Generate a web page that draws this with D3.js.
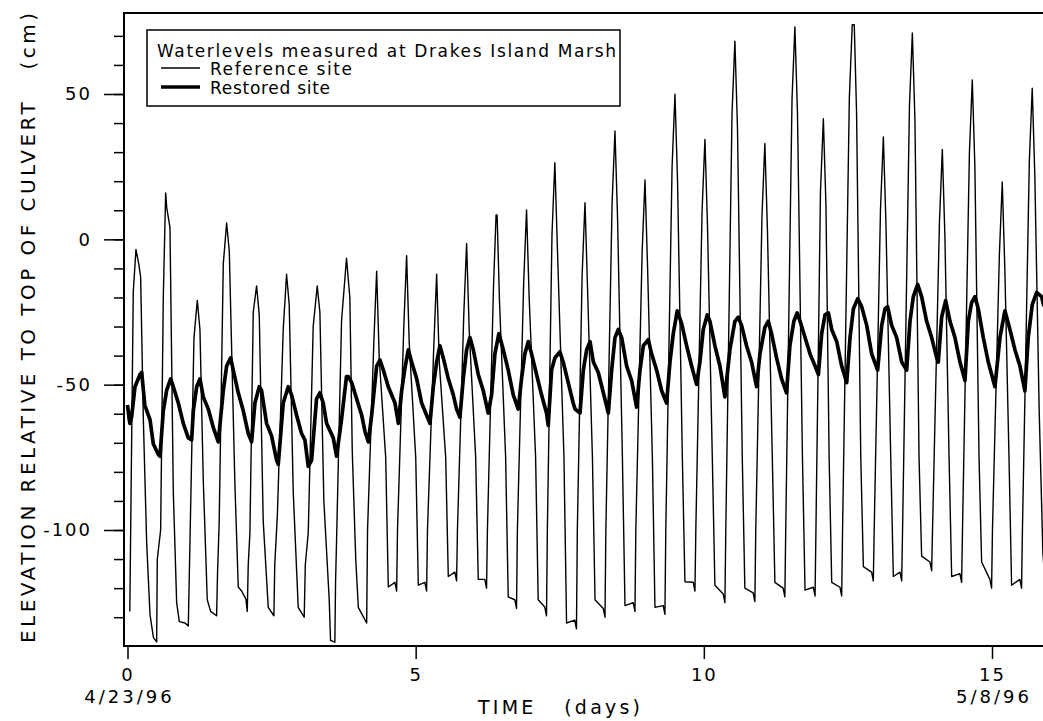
<!DOCTYPE html>
<html>
<head>
<meta charset="utf-8">
<script src="https://cdn.jsdelivr.net/npm/d3@7/dist/d3.min.js"></script>
<style>
  body { margin: 0; background: #fff; }
  svg { display: block; }
  text { font-family: "DejaVu Sans", Verdana, sans-serif; fill: #000; }
</style>
</head>
<body>
<div id="chart"></div>
<script>
// water level, cm relative to top of culvert, [day, level]
const refSite = [
  [0.040,-128],[0.055,-100],[0.100,-18],[0.147,-3.5],[0.200,-9],[0.228,-13],[0.275,-62],[0.332,-104],[0.390,-129],[0.450,-137],[0.506,-138.5],
  [0.517,-110],[0.575,-100],[0.621,-20],[0.662,16],[0.680,11],[0.737,4],[0.795,-87],[0.853,-125],[0.899,-131.5],[0.997,-132],[1.055,-133],
  [1.070,-118],[1.084,-104],[1.153,-34],[1.211,-21],[1.257,-31],[1.315,-83],[1.384,-124],[1.442,-128],[1.546,-129.5],
  [1.562,-115],[1.590,-98],[1.662,-8.5],[1.720,5.6],[1.766,-4],[1.864,-84.5],[1.922,-119.6],[1.980,-121],[2.055,-123.8],[2.078,-128],
  [2.095,-112],[2.124,-101],[2.182,-25],[2.240,-16],[2.286,-26],[2.355,-97],[2.442,-126.6],[2.540,-129.5],
  [2.555,-112],[2.600,-95],[2.702,-31],[2.760,-12],[2.806,-22.5],[2.876,-87],[2.962,-126.6],[3.066,-130],
  [3.085,-112],[3.136,-101],[3.222,-30],[3.292,-16],[3.338,-25],[3.407,-90],[3.500,-124],[3.523,-138],[3.598,-138.6],
  [3.610,-118],[3.627,-104],[3.714,-28],[3.800,-6.5],[3.858,-20],[3.900,-73],[3.960,-110],[4.005,-126.6],[4.150,-132],
  [4.165,-100],[4.273,-36],[4.323,-11],[4.368,-41],[4.480,-75],[4.525,-119.6],[4.640,-118],[4.670,-121],
  [4.685,-100],[4.793,-30.6],[4.843,-5.6],[4.888,-35.6],[5.001,-75],[5.046,-119],[5.160,-118],[5.190,-121],
  [5.205,-100],[5.314,-37],[5.364,-12],[5.409,-42],[5.521,-75],[5.566,-116],[5.680,-114.5],[5.710,-117.5],
  [5.725,-100],[5.834,-26.4],[5.884,-1.4],[5.929,-31.4],[6.041,-75],[6.086,-117],[6.200,-117],[6.230,-120],
  [6.245,-100],[6.350,-16.6],[6.395,8.4],[6.413,8.4],[6.455,-21.6],[6.561,-75],[6.606,-123],[6.720,-124],[6.750,-127],
  [6.765,-100],[6.874,-14.9],[6.924,10.1],[6.969,-19.9],[7.081,-75],[7.126,-124],[7.240,-126.5],[7.270,-129.5],
  [7.285,-100],[7.365,1.4],[7.415,26.4],[7.460,-3.6],[7.573,-75],[7.618,-132],[7.760,-131],[7.790,-134],
  [7.805,-100],[7.888,-12.4],[7.938,12.6],[7.983,-17.4],[8.067,-75],[8.112,-124],[8.255,-127],[8.285,-130],
  [8.300,-100],[8.408,12.3],[8.458,37.3],[8.503,7.3],[8.587,-75],[8.632,-126],[8.775,-125],[8.805,-128],
  [8.820,-100],[8.929,-4.6],[8.979,20.4],[9.024,-9.6],[9.107,-75],[9.152,-126.6],[9.295,-126],[9.325,-129],
  [9.340,-100],[9.449,24.9],[9.499,49.9],[9.544,19.9],[9.627,-75],[9.672,-117.8],[9.816,-118],[9.846,-121],
  [9.861,-100],[9.969,9.4],[10.019,34.4],[10.064,4.4],[10.147,-75],[10.192,-119],[10.336,-122],[10.366,-125],
  [10.381,-100],[10.489,43.2],[10.539,68.2],[10.584,38.2],[10.667,-75],[10.712,-120],[10.856,-121.6],[10.886,-124.6],
  [10.901,-100],[11.009,8],[11.059,33],[11.104,3],[11.188,-75],[11.233,-118],[11.376,-120],[11.406,-123],
  [11.421,-100],[11.530,48.1],[11.580,73.1],[11.625,43.1],[11.711,-75],[11.756,-120.7],[11.900,-119.7],[11.930,-122.7],
  [11.945,-100],[12.024,16.5],[12.074,41.5],[12.119,11.5],[12.174,-75],[12.219,-118],[12.362,-119.7],[12.392,-122.7],
  [12.407,-100],[12.525,48.8],[12.575,73.8],[12.610,73.8],[12.650,43.8],[12.723,-75],[12.768,-112.6],[12.911,-114.5],[12.941,-117.5],
  [12.956,-100],[13.065,10.2],[13.115,35.2],[13.160,5.2],[13.243,-75],[13.288,-116],[13.403,-114.5],[13.433,-117.5],
  [13.448,-100],[13.568,46],[13.618,71],[13.663,41],[13.734,-75],[13.779,-109],[13.923,-111],[13.953,-114],
  [13.968,-100],[14.088,5.9],[14.138,30.9],[14.183,0.9],[14.255,-75],[14.300,-116],[14.443,-115],[14.473,-118],
  [14.488,-100],[14.608,29.8],[14.658,54.8],[14.703,24.8],[14.775,-75],[14.820,-111],[14.963,-117],[14.993,-120],
  [15.008,-100],[15.128,-5.3],[15.178,19.7],[15.223,-10.3],[15.295,-75],[15.340,-119],[15.483,-117],[15.513,-120],
  [15.528,-100],[15.648,27],[15.698,52],[15.743,22],[15.820,-60],[15.883,-108],[15.930,-120]
];

const restoredSite = [
  [0.000,-57],[0.030,-62],[0.043,-63.3],[0.072,-61],[0.130,-50.7],[0.217,-46.5],[0.246,-45.8],[0.300,-57],[0.390,-62],[0.448,-70.4],[0.535,-74],[0.564,-74.6],
  [0.621,-59],[0.679,-52],[0.749,-48],[0.795,-50.7],[0.882,-56.3],[0.968,-63.3],[1.055,-68.3],[1.113,-69],
  [1.142,-59],[1.200,-50.7],[1.257,-48],[1.315,-54.2],[1.402,-58.4],[1.488,-64.7],[1.575,-69.7],
  [1.662,-52],[1.720,-43.6],[1.789,-40.8],[1.835,-45],[1.922,-52.8],[2.009,-59],[2.095,-66.8],[2.153,-69.7],
  [2.211,-56.3],[2.286,-50.7],[2.326,-52],[2.413,-63.3],[2.500,-67.6],[2.587,-76],[2.616,-77.4],
  [2.702,-56.3],[2.789,-50.7],[2.847,-53.5],[2.934,-60.5],[3.020,-66.8],[3.078,-69],[3.136,-78.1],[3.194,-76],
  [3.280,-54.9],[3.338,-52.8],[3.396,-56.3],[3.454,-63.3],[3.570,-68.3],[3.627,-74.6],
  [3.714,-61.9],[3.800,-47.2],[3.832,-47.2],[3.890,-49.3],[3.976,-54.9],[4.063,-60.5],[4.121,-66.1],[4.179,-69.7],
  [4.236,-60.5],[4.323,-43.6],[4.381,-41.5],[4.439,-45],[4.525,-50.7],[4.641,-56.3],[4.699,-63.3],
  [4.757,-52.1],[4.814,-44.3],[4.872,-38],[4.930,-42.2],[5.017,-47.9],[5.103,-56.3],[5.190,-60.5],[5.248,-63.3],
  [5.306,-50.7],[5.364,-42.2],[5.421,-36.6],[5.479,-40.8],[5.566,-47.9],[5.653,-53.5],[5.710,-58.4],[5.768,-61.2],
  [5.826,-47.9],[5.884,-38],[5.942,-33.8],[6.000,-38],[6.086,-46.5],[6.173,-52.1],[6.259,-59.8],
  [6.317,-53.5],[6.375,-39.4],[6.444,-32.4],[6.520,-38],[6.606,-45],[6.693,-53.5],[6.780,-58.4],
  [6.837,-47.9],[6.895,-39.4],[6.953,-35.2],[7.011,-39.4],[7.098,-46.5],[7.184,-53.5],[7.271,-59.8],[7.300,-64],
  [7.358,-45],[7.415,-40.8],[7.502,-38.7],[7.560,-42.2],[7.647,-49.3],[7.733,-56.3],[7.765,-58.4],[7.851,-59.8],
  [7.909,-45],[7.967,-38],[8.025,-35.2],[8.083,-42.2],[8.169,-45.8],[8.256,-52.8],[8.343,-59.8],
  [8.401,-45],[8.458,-33.8],[8.516,-31],[8.574,-33.8],[8.661,-43.6],[8.747,-48.6],[8.834,-57.7],
  [8.892,-45],[8.950,-36.6],[9.036,-34.5],[9.094,-39.4],[9.181,-45],[9.268,-52.1],[9.354,-56.3],
  [9.412,-42.2],[9.470,-32.4],[9.539,-24.6],[9.614,-28.9],[9.701,-36.6],[9.788,-43.6],[9.874,-49.9],
  [9.932,-42.2],[9.990,-31],[10.059,-26],[10.106,-28.2],[10.192,-36.6],[10.279,-43.6],[10.366,-54.2],
  [10.452,-38],[10.539,-28.2],[10.597,-26.8],[10.655,-29.6],[10.741,-36.6],[10.828,-42.2],[10.915,-50.7],
  [10.973,-39.4],[11.059,-30.3],[11.117,-28.2],[11.175,-32.4],[11.262,-40.8],[11.348,-47.9],[11.435,-52.8],
  [11.493,-36.6],[11.562,-28.2],[11.620,-25.3],[11.670,-28.2],[11.756,-33.8],[11.843,-39.4],[11.930,-43.6],[11.988,-46.5],
  [12.045,-32.4],[12.103,-26],[12.161,-25.3],[12.219,-31],[12.306,-35.2],[12.392,-43.6],[12.479,-49.3],
  [12.537,-33.8],[12.595,-23.9],[12.670,-20.4],[12.739,-23.2],[12.826,-29.6],[12.912,-39.4],[13.016,-45],
  [13.086,-29.6],[13.144,-23.9],[13.190,-23.2],[13.259,-29.6],[13.346,-33.8],[13.433,-42.2],[13.519,-45],
  [13.577,-28.2],[13.635,-19.7],[13.710,-15.5],[13.779,-19.7],[13.866,-28.2],[13.953,-33.8],[14.040,-40.8],[14.068,-42.2],
  [14.126,-26.8],[14.196,-21.1],[14.271,-28.2],[14.357,-33.8],[14.444,-42.2],[14.531,-48.6],
  [14.589,-28.2],[14.646,-21.8],[14.704,-19.7],[14.762,-23.9],[14.849,-33.8],[14.935,-42.2],[15.051,-50.7],
  [15.138,-33.8],[15.224,-24.6],[15.311,-31],[15.398,-38],[15.485,-43.6],[15.571,-52.1],
  [15.629,-33.8],[15.698,-22.5],[15.774,-18.3],[15.860,-19.7],[15.900,-23]
];

const yMajorTicks = [-100, -50, 0, 50];
const yMinorTicks = [-130, -120, -110, -100, -90, -80, -70, -60, -50, -40, -30, -20, -10, 0, 10, 20, 30, 40, 50, 60, 70];
const xTicks = [0, 5, 10, 15];
const dateLabels = [[0, "4/23/96"], [15, "5/8/96"]];
const legendTitle = "Waterlevels measured at Drakes Island Marsh";
const seriesNames = ["Reference site", "Restored site"];

const width = 1043;
const height = 721;
const frame = { left: 124, top: 13, bottom: 646 };

const svg = d3.select("#chart").append("svg")
  .attr("width", width)
  .attr("height", height);

const x = d3.scaleLinear().domain([0, 15]).range([127.5, 992]);
const y = d3.scaleLinear().domain([-100, 50]).range([530, 94]);

svg.append("clipPath").attr("id", "plot-clip")
  .append("rect")
  .attr("x", frame.left)
  .attr("y", frame.top)
  .attr("width", width - frame.left)
  .attr("height", frame.bottom - frame.top);

const line = d3.line().x(d => x(d[0])).y(d => y(d[1]));

const plot = svg.append("g").attr("clip-path", "url(#plot-clip)");

plot.append("path")
  .datum(refSite)
  .attr("fill", "none")
  .attr("stroke", "#000")
  .attr("stroke-width", 1.4)
  .attr("stroke-linejoin", "round")
  .attr("d", line);

plot.append("path")
  .datum(restoredSite)
  .attr("fill", "none")
  .attr("stroke", "#000")
  .attr("stroke-width", 3.7)
  .attr("stroke-linejoin", "round")
  .attr("d", line);

// frame: right side runs off the page like in the original
svg.append("path")
  .attr("fill", "none")
  .attr("stroke", "#000")
  .attr("stroke-width", 2)
  .attr("d", `M${width + 5},${frame.top}H${frame.left}V${frame.bottom}H${width + 5}`);

// y axis: short minor ticks, long major ticks with labels
svg.append("g")
  .attr("transform", `translate(${frame.left},0)`)
  .call(d3.axisLeft(y).tickValues(yMinorTicks).tickSize(10).tickFormat(""))
  .call(g => g.select(".domain").remove())
  .call(g => g.selectAll("line").attr("stroke-width", 1.5));

svg.append("g")
  .attr("transform", `translate(${frame.left},0)`)
  .call(d3.axisLeft(y).tickValues(yMajorTicks).tickSize(20).tickPadding(12).tickFormat(d => String(d)))
  .call(g => g.select(".domain").remove())
  .call(g => g.selectAll("line").attr("stroke-width", 1.5))
  .call(g => g.selectAll("text")
    .attr("font-family", null)
    .style("font-size", "18px")
    .style("letter-spacing", "2px"));

svg.append("g")
  .attr("transform", `translate(0,${frame.bottom})`)
  .call(d3.axisBottom(x).tickValues(xTicks).tickSize(13).tickPadding(9))
  .call(g => g.select(".domain").remove())
  .call(g => g.selectAll("line").attr("stroke-width", 1.5))
  .call(g => g.selectAll("text")
    .attr("font-family", null)
    .style("font-size", "18px")
    .style("letter-spacing", "2px"));

svg.selectAll(".date-label")
  .data(dateLabels)
  .enter().append("text")
  .attr("class", "date-label")
  .attr("x", d => x(d[0]) + 2)
  .attr("y", 703)
  .attr("text-anchor", "middle")
  .style("font-size", "18px")
  .style("letter-spacing", "3px")
  .text(d => d[1]);

svg.append("text")
  .attr("x", 478)
  .attr("y", 714)
  .attr("textLength", 162)
  .attr("lengthAdjust", "spacing")
  .style("font-size", "19px")
  .text("TIME\u00a0\u00a0\u00a0(days)");

svg.append("text")
  .attr("transform", "translate(35,643) rotate(-90)")
  .attr("textLength", 630)
  .attr("lengthAdjust", "spacing")
  .style("font-size", "20px")
  .text("ELEVATION RELATIVE TO TOP OF CULVERT\u00a0\u00a0\u00a0(cm)");

// legend box
const legend = svg.append("g");
legend.append("rect")
  .attr("x", 147).attr("y", 30)
  .attr("width", 473).attr("height", 76)
  .attr("fill", "#fff")
  .attr("stroke", "#000")
  .attr("stroke-width", 1.5);

legend.append("text")
  .attr("x", 157).attr("y", 57)
  .attr("textLength", 459)
  .attr("lengthAdjust", "spacing")
  .style("font-size", "17px")
  .text(legendTitle);

const legendRows = legend.selectAll(".row")
  .data(seriesNames)
  .enter().append("g")
  .attr("class", "row")
  .attr("transform", (d, i) => `translate(0,${68 + i * 19})`);

legendRows.append("line")
  .attr("x1", 161).attr("x2", 200)
  .attr("stroke", "#000")
  .attr("stroke-width", (d, i) => i === 0 ? 1.4 : 3.7);

legendRows.append("text")
  .attr("x", 210).attr("y", 7)
  .attr("textLength", (d, i) => i === 0 ? 142 : 120)
  .attr("lengthAdjust", "spacing")
  .style("font-size", "17px")
  .text(d => d);
</script>
</body>
</html>
